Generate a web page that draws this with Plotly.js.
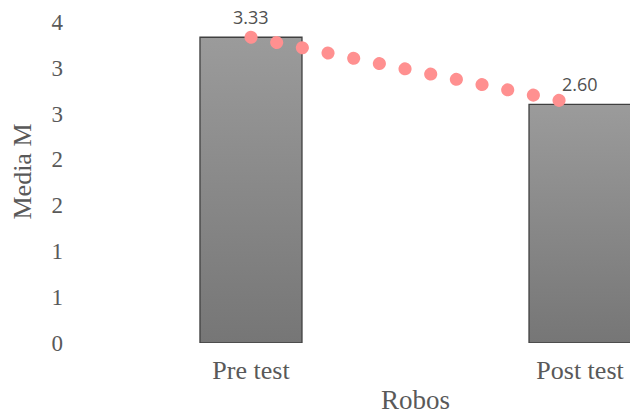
<!DOCTYPE html>
<html>
<head>
<meta charset="utf-8">
<script src="https://cdn.plot.ly/plotly-3.0.1.min.js"></script>
<style>
  html, body { margin: 0; padding: 0; overflow: hidden; background: #fff; }
  #chart { width: 832px; height: 420px; }
</style>
</head>
<body>
<div id="chart"></div>
<script>
// ---- data ----
const categories = ["Pre test", "Post test"];
const means = [3.33, 2.60];
const labelTexts = ["3.33", "2.60"];
// dotted trend line
const trendX = [0, 0.94];
const trendY = [3.33, 2.64];
// y tick values and their (rounded) labels
const yTickVals = [0, 0.5, 1, 1.5, 2, 2.5, 3, 3.5];
const yTickText = ["0", "1", "1", "2", "2", "3", "3", "4"];

const catPos = categories.map((c, i) => i);
const textGray = "#595959";
const serif = "Liberation Serif, Times New Roman, serif";

const traces = [
  {
    type: "bar",
    x: catPos,
    y: means,
    width: 0.31,
    marker: { color: "#888888", line: { color: "#404040", width: 1.3 } },
    hoverinfo: "none",
    showlegend: false
  },
  {
    type: "scatter",
    mode: "lines",
    x: trendX,
    y: trendY,
    line: { color: "#FF9090", width: 13, dash: "0.1px,26.1px" },
    hoverinfo: "none",
    showlegend: false,
    cliponaxis: false
  }
];

const annotations = catPos.map((p, i) => ({
  x: p, y: means[i], text: labelTexts[i],
  showarrow: false, yshift: 20, yanchor: "middle", xanchor: "center",
  font: { family: "Open Sans, DejaVu Sans, sans-serif", size: 18, color: "#505050" }
}));

const layout = {
  width: 832, height: 420,
  margin: { l: 70, r: 71, t: 0, b: 77, pad: 0 },
  paper_bgcolor: "#ffffff",
  plot_bgcolor: "#ffffff",
  showlegend: false,
  xaxis: {
    type: "linear",
    range: [-0.55, 1.55],
    tickvals: catPos,
    ticktext: categories,
    showgrid: false, zeroline: false, showline: false,
    ticks: "", ticklabelstandoff: 9,
    tickfont: { family: serif, size: 26, color: textGray },
    title: { text: "Robos", font: { family: serif, size: 27, color: textGray }, standoff: 6 }
  },
  yaxis: {
    range: [0, 3.736],
    tickvals: yTickVals,
    ticktext: yTickText,
    showgrid: false, zeroline: false, showline: false,
    ticks: "", ticklabelstandoff: 6,
    tickfont: { family: serif, size: 23, color: textGray },
    title: { text: "Media M", font: { family: serif, size: 26, color: textGray }, standoff: 12 }
  },
  annotations: annotations
};

function styleMarks() {
  const gd = document.getElementById("chart");
  const svg = gd.querySelector("svg.main-svg");
  if (svg && !document.getElementById("barGrad")) {
    const ns = "http://www.w3.org/2000/svg";
    let defs = svg.querySelector("defs");
    if (!defs) { defs = document.createElementNS(ns, "defs"); svg.insertBefore(defs, svg.firstChild); }
    const g = document.createElementNS(ns, "linearGradient");
    g.setAttribute("id", "barGrad");
    g.setAttribute("x1", "0"); g.setAttribute("y1", "0");
    g.setAttribute("x2", "0"); g.setAttribute("y2", "1");
    [["0", "#9b9b9b"], ["1", "#767676"]].forEach(([o, c]) => {
      const s = document.createElementNS(ns, "stop");
      s.setAttribute("offset", o); s.setAttribute("stop-color", c);
      g.appendChild(s);
    });
    defs.appendChild(g);
  }
  gd.querySelectorAll(".barlayer .point path").forEach(p => { p.style.fill = "url(#barGrad)"; });
  gd.querySelectorAll(".scatterlayer .js-line").forEach(p => { p.style.strokeLinecap = "round"; });
}

Plotly.newPlot("chart", traces, layout, { displayModeBar: false, staticPlot: true }).then(gd => {
  styleMarks();
  gd.on("plotly_afterplot", styleMarks);
});
</script>
</body>
</html>
